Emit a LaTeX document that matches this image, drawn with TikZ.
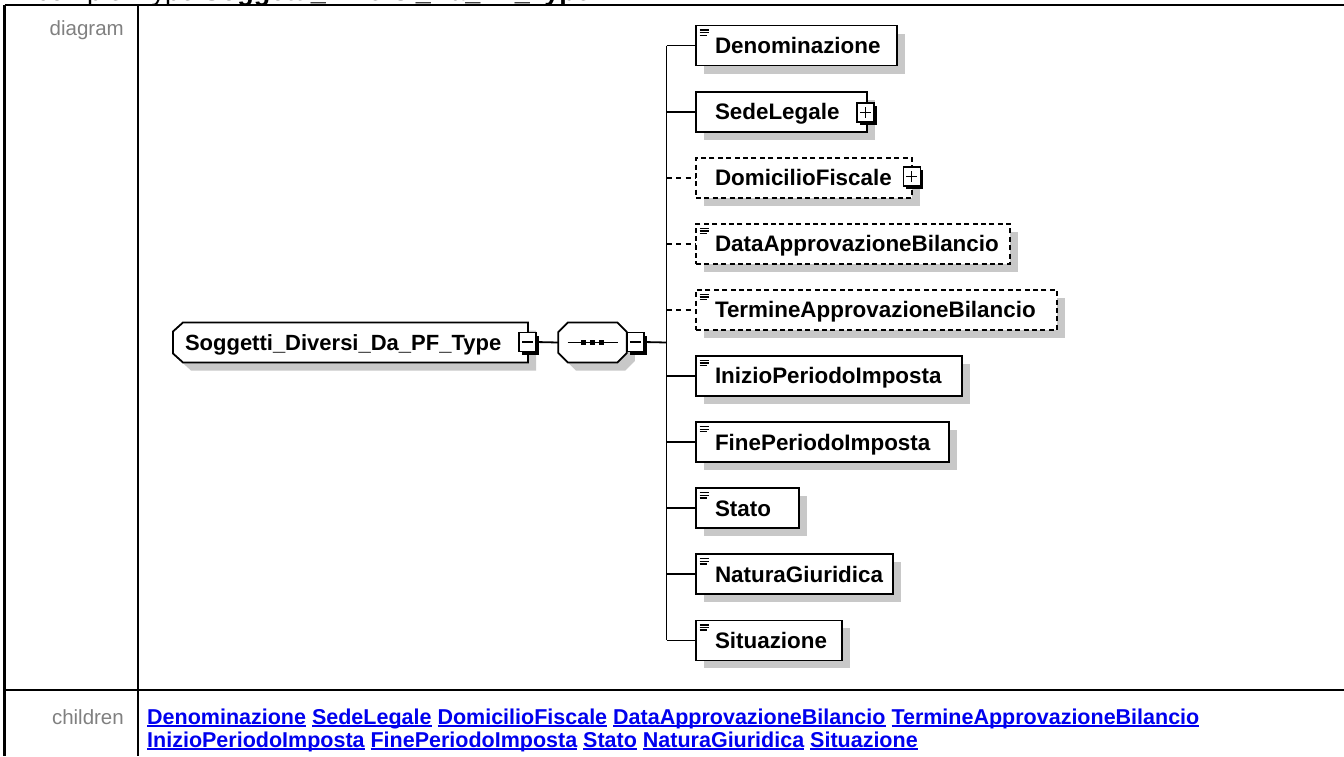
\documentclass[tikz,border=0pt]{standalone}
\usepackage{fontspec}
\setmainfont{Liberation Sans}
\usetikzlibrary{shadows,calc}
\definecolor{shadowgray}{RGB}{200,200,200}
\definecolor{labelgray}{RGB}{128,128,128}
\definecolor{linkblue}{RGB}{0,0,238}
\pgfdeclarelayer{bg}
\pgfsetlayers{bg,main}
\newcommand\elbl[2]{\hbox to #1pt{\hskip19pt #2\hss}}
\newcommand\lnk[1]{\setbox0\hbox{#1}\rlap{\rule[-2.8pt]{\wd0}{1.6pt}}\box0\relax}
\tikzset{
  elem/.style={draw=black, line width=1.8pt, fill=white, anchor=west, outer sep=0pt,
    inner xsep=0pt, inner ysep=0pt, minimum height=40pt, text height=15.8pt, text depth=0pt,
    font=\fontsize{22.4}{26}\selectfont\bfseries,
    drop shadow={shadow xshift=8pt, shadow yshift=-8pt, fill=shadowgray, opacity=1}},
  optelem/.style={elem, dash pattern=on 5pt off 3.4pt},
  conn/.style={line width=1.8pt},
  optconn/.style={conn, dash pattern=on 5pt off 4.5pt},
  pmbox/.style={draw=black, fill=white, line width=1.4pt, minimum width=17pt, minimum height=19pt,
    inner sep=0pt, outer sep=0pt,
    drop shadow={shadow xshift=3.2pt, shadow yshift=-3.2pt, fill=black, opacity=1}},
  pmsign/.style={line width=1.4pt},
  icon/.style={line width=1.3pt},
  tbl/.style={line width=2.2pt},
  bigshape/.style={draw=black, fill=white, line width=1.8pt,
    drop shadow={shadow xshift=8pt, shadow yshift=-8pt, fill=shadowgray, opacity=1}},
  hidden/.style={inner sep=0pt, outer sep=0pt, minimum height=40pt, text height=15.8pt, text depth=0pt, anchor=west},
  sidelabel/.style={anchor=base east, inner sep=0pt, font=\fontsize{20.5}{24}\selectfont, text=labelgray},
  links/.style={anchor=base west, inner sep=0pt, font=\fontsize{21.5}{25}\selectfont\bfseries, text=linkblue},
}
\begin{document}
\begin{tikzpicture}[x=1pt,y=-1pt]
\useasboundingbox (0,0) rectangle (1344,756);
% header (cut off at the top, as in the reference)
\node[anchor=base west, inner sep=0pt, font=\fontsize{27}{30}\selectfont] (hdr) at (36,0) {complexType \textbf{Soggetti\_Diversi\_Da\_PF\_Type}};
% table frame
\draw[tbl] (4.5,5) -- (1344,5);
\draw[tbl] (4.5,5) -- (4.5,756);
\draw[tbl] (138,5) -- (138,756);
\draw[tbl] (4.5,690) -- (1344,690);
\node[sidelabel] (diaglbl) at (124,35.5) {diagram};
\node[sidelabel] (childlbl) at (124,724) {children};
\node[links] (links1) at (147,724) {\lnk{Denominazione} \lnk{SedeLegale} \lnk{DomicilioFiscale} \lnk{DataApprovazioneBilancio} \lnk{TermineApprovazioneBilancio}};
\node[links] (links2) at (147,747) {\lnk{InizioPeriodoImposta} \lnk{FinePeriodoImposta} \lnk{Stato} \lnk{NaturaGiuridica} \lnk{Situazione}};

% type node
\node[hidden, font=\fontsize{22}{26}\selectfont\bfseries] (type) at (173,342.5) {\hbox to 355pt{\hskip12pt Soggetti\_Diversi\_Da\_PF\_Type\hss}};
% sequence node
\node[hidden, minimum width=68.5pt] (seq) at (558.3,342.5) {};
\begin{pgfonlayer}{bg}
\path[bigshape] ($(type.north west)+(10,0)$) -- (type.north east) -- (type.south east)
  -- ($(type.south west)+(10,0)$) -- ($(type.south west)+(0,-9)$) -- ($(type.north west)+(0,9)$) -- cycle;
\path[bigshape] ($(seq.north west)+(9.5,0)$) -- ($(seq.north east)+(-9.5,0)$) -- ($(seq.north east)+(0,9.5)$)
  -- ($(seq.south east)+(0,-9.5)$) -- ($(seq.south east)+(-9.5,0)$) -- ($(seq.south west)+(9.5,0)$)
  -- ($(seq.south west)+(0,-9.5)$) -- ($(seq.north west)+(0,9.5)$) -- cycle;
\end{pgfonlayer}
% sequence symbol
\draw[line width=1.4pt] ($(seq.center)+(-25,0)$) -- ($(seq.center)+(25,0)$);
\foreach \dx in {-9,0,9} {
  \fill ($(seq.center)+(\dx,0)+(-2.6,-2.6)$) rectangle ($(seq.center)+(\dx,0)+(2.6,2.6)$);
}
% minus boxes
\node[pmbox] (tm) at (527.5,342) {};
\draw[pmsign] ($(tm.center)+(-5.5,0)$) -- ($(tm.center)+(5.5,0)$);
\node[pmbox] (sm) at (635.3,342) {};
\draw[pmsign] ($(sm.center)+(-5.5,0)$) -- ($(sm.center)+(5.5,0)$);
\coordinate (j) at (666.5,342.5);

% children
\node[elem] (c1) at (696,45.5) {\elbl{201}{Denominazione}};
\node[elem] (c2) at (696,111.6) {\elbl{171}{SedeLegale}};
\node[optelem] (c3) at (696,177.7) {\elbl{216}{DomicilioFiscale}};
\node[optelem] (c4) at (696,243.8) {\elbl{314}{DataApprovazioneBilancio}};
\node[optelem] (c5) at (696,309.9) {\elbl{361}{TermineApprovazioneBilancio}};
\node[elem] (c6) at (696,376) {\elbl{266}{InizioPeriodoImposta}};
\node[elem] (c7) at (696,442.1) {\elbl{253}{FinePeriodoImposta}};
\node[elem] (c8) at (696,508.2) {\elbl{103}{Stato}};
\node[elem] (c9) at (696,574.3) {\elbl{197}{NaturaGiuridica}};
\node[elem] (c10) at (696,640.4) {\elbl{146}{Situazione}};

% doc icons
\foreach \n in {c1,c4,c5,c6,c7,c8,c9,c10} {
  \draw[icon] ($(\n.north west)+(3.5,4.5)$) -- ++(9,0);
  \draw[icon] ($(\n.north west)+(3.5,7.1)$) -- ++(9,0);
  \draw[icon] ($(\n.north west)+(3.5,9.7)$) -- ++(7.5,0);
}
% plus boxes
\node[pmbox] (p2) at (865.5,112.6) {};
\draw[pmsign] ($(p2.center)+(-5.5,0)$) -- ($(p2.center)+(5.5,0)$);
\draw[pmsign] ($(p2.center)+(0,-5.5)$) -- ($(p2.center)+(0,5.5)$);
\node[pmbox] (p3) at (911.7,176.5) {};
\draw[pmsign] ($(p3.center)+(-5.5,0)$) -- ($(p3.center)+(5.5,0)$);
\draw[pmsign] ($(p3.center)+(0,-5.5)$) -- ($(p3.center)+(0,5.5)$);

% connectors
\draw[conn] (tm.east) -- (seq.west);
\draw[conn] (sm.east) -- (j);
\draw[conn] (c1.west -| j) -- (c10.west -| j);
\foreach \i in {1,2,6,7,8,9,10} {
  \draw[conn] (c\i.west -| j) -- (c\i.west);
}
\foreach \i in {3,4,5} {
  \draw[optconn] (c\i.west -| j) -- (c\i.west);
}
\end{tikzpicture}
\end{document}
